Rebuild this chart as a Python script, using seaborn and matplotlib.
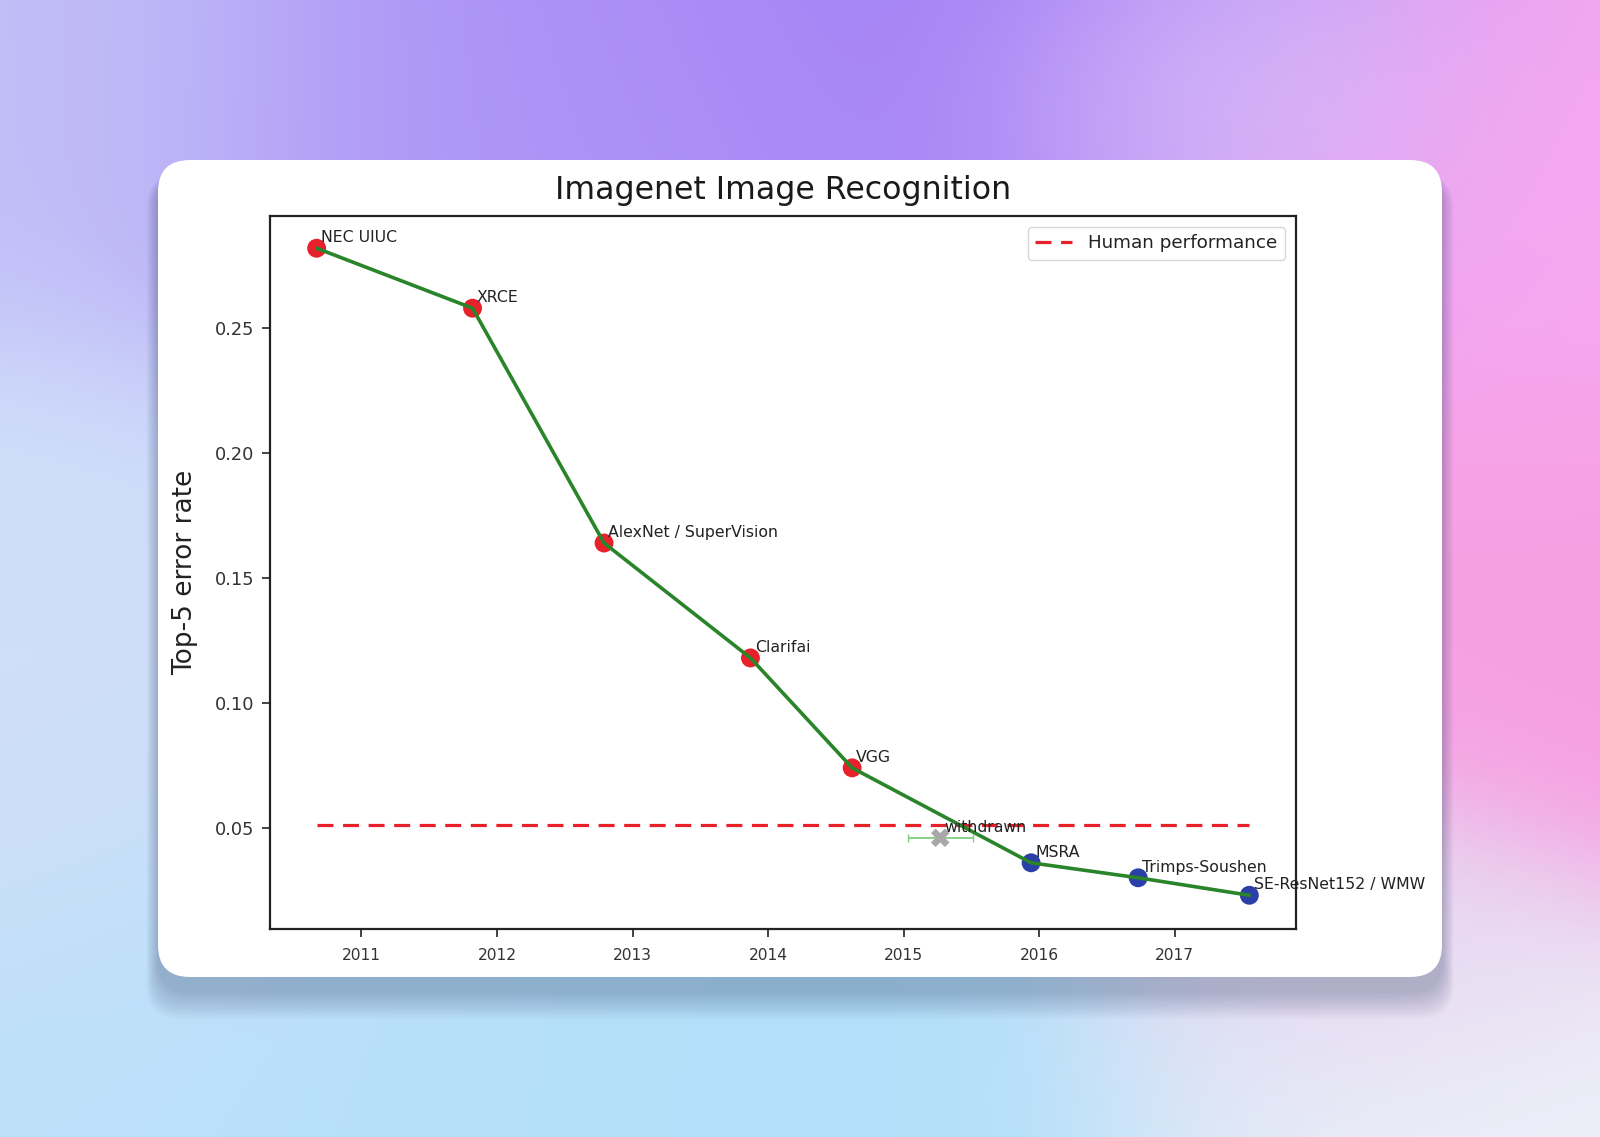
import numpy as np
import pandas as pd
import matplotlib
matplotlib.use('Agg')
import matplotlib.pyplot as plt
from matplotlib.patches import FancyBboxPatch
import seaborn as sns

# ImageNet top-5 error rates
models = ['NEC UIUC', 'XRCE', 'AlexNet / SuperVision', 'Clarifai', 'VGG',
          'MSRA', 'Trimps-Soushen', 'SE-ResNet152 / WMW']
years = [2010.67, 2011.82, 2012.79, 2013.87, 2014.62, 2015.94, 2016.73, 2017.55]
errors = [0.282, 0.258, 0.164, 0.118, 0.074, 0.036, 0.030, 0.023]
era = ['before', 'before', 'before', 'before', 'before', 'after', 'after', 'after']

withdrawn_year = 2015.27
withdrawn_err = 0.046
withdrawn_xerr = 0.24

human_error = 0.051

df = pd.DataFrame({'model': models, 'year': years, 'error': errors, 'era': era})

sns.set_style('white')
plt.rcParams['font.family'] = ['DejaVu Sans']

W, H = 1600, 1137
fig = plt.figure(figsize=(W / 100, H / 100), dpi=100)

# Gradient background
bg = fig.add_axes([0, 0, 1, 1], zorder=-10)
gx, gy = np.meshgrid(np.linspace(0, 1, 160), np.linspace(0, 1, 114))
blobs = [
    (0.60, 0.00, 0.22, (163, 126, 245)),
    (0.35, 0.08, 0.22, (174, 150, 246)),
    (0.00, 0.05, 0.18, (194, 192, 248)),
    (0.76, 0.07, 0.12, (222, 198, 250)),
    (1.00, 0.15, 0.20, (246, 168, 240)),
    (1.00, 0.55, 0.18, (247, 160, 226)),
    (0.00, 0.60, 0.25, (208, 222, 250)),
    (0.40, 1.00, 0.30, (178, 223, 250)),
    (0.10, 1.00, 0.20, (190, 225, 250)),
    (0.90, 1.00, 0.16, (238, 240, 248)),
    (0.85, 0.85, 0.12, (232, 214, 240)),
]
num = np.zeros(gx.shape + (3,))
den = np.zeros(gx.shape)
for bx, by, s, c in blobs:
    w = np.exp(-((gx - bx) ** 2 + (gy - by) ** 2) / s ** 2)
    num += w[..., None] * np.array(c)
    den += w
img = num / den[..., None] / 255.0
bg.imshow(img, extent=[0, W, H, 0], aspect='auto', interpolation='bicubic')
bg.set_xlim(0, W)
bg.set_ylim(H, 0)
bg.axis('off')

# Card with soft shadow
cx0, cy0, cx1, cy1 = 158, 160, 1442, 977
for i in range(14):
    g = 2 + i * 2.0
    bg.add_patch(FancyBboxPatch((cx0 - g * 0.4, cy0 + 14), cx1 - cx0 + g * 0.8, cy1 - cy0 + g,
                                boxstyle='round,pad=0,rounding_size=34',
                                fc='#3a4a70', ec='none', alpha=0.022))
bg.add_patch(FancyBboxPatch((cx0, cy0), cx1 - cx0, cy1 - cy0,
                            boxstyle='round,pad=0,rounding_size=32',
                            fc='white', ec='none'))

# Main chart
ax = fig.add_axes([270 / W, 1 - 929 / H, (1296 - 270) / W, (929 - 216) / H])
ax.set_facecolor('white')

ax.plot([years[0], years[-1]], [human_error, human_error], color='#e8202a',
        lw=2.3, linestyle=(0, (5, 3)), label='Human performance', zorder=2)

sns.scatterplot(data=df, x='year', y='error', hue='era',
                palette={'before': '#e8202a', 'after': '#2b40a6'},
                s=185, edgecolor='none', legend=False, ax=ax, zorder=3)
sns.lineplot(data=df, x='year', y='error', color='#2a842a', lw=2.6,
             ax=ax, zorder=4)

ax.errorbar([withdrawn_year], [withdrawn_err], xerr=[withdrawn_xerr], fmt='none',
            ecolor='#7fcf7f', elinewidth=1.3, capsize=3, zorder=3)
ax.scatter([withdrawn_year], [withdrawn_err], marker='X', s=180, color='#a8a8a8',
           edgecolor='none', zorder=4)

for m, x, y in zip(models, years, errors):
    ax.annotate(m, (x, y), xytext=(3, 2), textcoords='offset points',
                ha='left', va='bottom', fontsize=11.3, color='#222222',
                annotation_clip=False, zorder=6)
ax.annotate('withdrawn', (withdrawn_year, withdrawn_err), xytext=(3, 2),
            textcoords='offset points', ha='left', va='bottom', fontsize=11.3,
            color='#222222', zorder=6)

ax.set_xlim(2010.326, 2017.894)
ax.set_ylim(0.0095, 0.2949)
ax.set_xticks([2011, 2012, 2013, 2014, 2015, 2016, 2017])
ax.set_yticks([0.05, 0.10, 0.15, 0.20, 0.25])
ax.set_yticklabels(['0.05', '0.10', '0.15', '0.20', '0.25'])
ax.tick_params(axis='x', labelsize=11.2, colors='#333333', length=6, width=1.3,
               direction='out', bottom=True, pad=8)
ax.tick_params(axis='y', labelsize=12.8, colors='#333333', length=6, width=1.3,
               direction='out', left=True, pad=5)
for sp in ax.spines.values():
    sp.set_color('#222222')
    sp.set_linewidth(1.6)

ax.set_xlabel('')
ax.set_ylabel('Top-5 error rate', fontsize=19, color='#222222', labelpad=12)
fig.text(783 / W, 1 - 191 / H, 'Imagenet Image Recognition', ha='center',
         va='center', fontsize=22.8, color='#1a1a1a')

leg = ax.legend(loc='upper right', fontsize=13.2, frameon=True, fancybox=True,
                handlelength=2.0, handletextpad=0.9, borderpad=0.4,
                borderaxespad=0.6)
leg.get_frame().set_edgecolor('#cccccc')
leg.get_frame().set_linewidth(1.0)
for t in leg.get_texts():
    t.set_color('#222222')

fig.savefig('out.png', dpi=100)
